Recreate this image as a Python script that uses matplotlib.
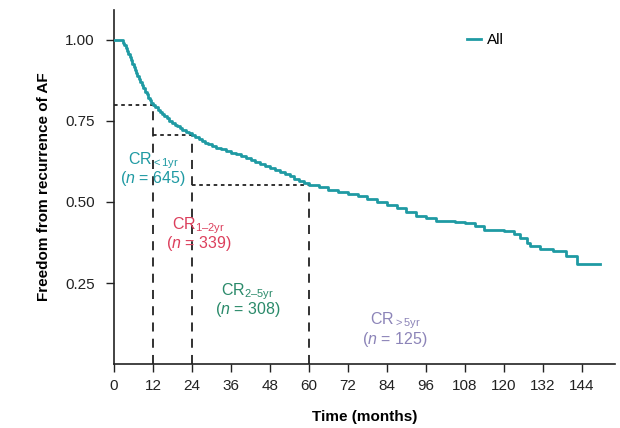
import matplotlib
matplotlib.use("Agg")
import matplotlib.pyplot as plt

plt.rcParams['font.family'] = ['Liberation Sans', 'DejaVu Sans']
plt.rcParams['mathtext.fontset'] = 'custom'
plt.rcParams['mathtext.rm'] = 'Liberation Sans'
plt.rcParams['mathtext.it'] = 'Liberation Sans:italic'
plt.rcParams['mathtext.default'] = 'rm'

# Kaplan-Meier curve
times = [0, 2.8, 3.2, 3.6, 4.0, 4.4, 4.8, 5.2, 5.6, 6.0, 6.4, 6.8, 7.2, 7.6, 8.0,
         8.5, 9.0, 9.5, 10.0, 10.5, 11.0, 11.5, 12.0, 12.7, 13.4, 14.1, 14.8, 15.5,
         16.2, 17.0, 17.8, 18.6, 19.4, 20.2, 21.0, 22.0, 23.0, 24, 25, 26, 27, 28,
         29, 30, 31.5, 33, 34.5, 36, 37.5, 39, 40.5, 42, 43.5, 45,
         46.5, 48, 49.5, 51, 52.5, 54, 55.5, 57, 58.5, 60, 63, 66, 69, 72, 75, 78,
         81, 84, 87, 90, 93, 96, 99, 102, 105, 108, 111, 114, 117, 120, 123, 125,
         127, 128, 131, 135, 139, 142.5, 149.5]
surv = [1.0, 0.992, 0.983, 0.974, 0.965, 0.956, 0.947, 0.937, 0.927, 0.917, 0.907,
        0.898, 0.889, 0.88, 0.871, 0.861, 0.851, 0.841, 0.832, 0.822, 0.814, 0.806,
        0.80, 0.792, 0.784, 0.777, 0.771, 0.765, 0.758, 0.751, 0.745, 0.739, 0.733,
        0.727, 0.722, 0.717, 0.712, 0.707, 0.700, 0.694, 0.688, 0.683, 0.678,
        0.673, 0.668, 0.663, 0.658, 0.652, 0.647, 0.641, 0.636, 0.63, 0.624,
        0.618, 0.612, 0.606, 0.600, 0.594, 0.587, 0.58, 0.572, 0.564, 0.558, 0.552,
        0.545, 0.538, 0.53, 0.524, 0.517, 0.509, 0.5, 0.492, 0.482, 0.47, 0.458,
        0.45, 0.442, 0.44, 0.438, 0.436, 0.425, 0.415, 0.413, 0.41, 0.40, 0.39,
        0.375, 0.364, 0.355, 0.349, 0.333, 0.309, 0.309]

# Reference landmarks
mark_times = [12, 24, 60]
mark_surv = [0.80, 0.707, 0.552]

groups = ["CR$_{{<}1yr}$", "CR$_{1\u20132yr}$", "CR$_{2\u20135yr}$", "CR$_{{>}5yr}$"]
group_n = [645, 339, 308, 125]
group_x = [12, 26, 41, 86.5]
group_y = [0.60, 0.40, 0.195, 0.105]
group_colors = ["#1f9aa3", "#dc3f5c", "#2a8a6a", "#8c84b8"]

xticks = list(range(0, 145, 12))
yticks = [0.25, 0.50, 0.75, 1.00]

teal = "#1f9aa3"

fig = plt.figure(figsize=(6.2, 4.28), dpi=100)
ax = fig.add_axes([0.184, 0.1495, 0.808, 0.8275])

ax.step(times, surv, where='post', color=teal, lw=2.0, label='All', zorder=3)

# landmark lines
prev = 0
for t, s in zip(mark_times, mark_surv):
    ax.plot([prev, t], [s, s], color='#222222', lw=1.3, ls=(0, (2, 2)), zorder=2)
    ax.plot([t, t], [0, s], color='#222222', lw=1.3, ls=(0, (5, 4)), zorder=2)
    prev = t

for g, n, x, y, c in zip(groups, group_n, group_x, group_y, group_colors):
    ax.text(x, y + 0.028, g, color=c, ha='center', va='center', fontsize=11.5)
    ax.text(x, y - 0.028, "($\\it{n}$ = %d)" % n, color=c, ha='center', va='center',
            fontsize=11.5)

ax.set_xlim(0, 154.2)
ax.set_ylim(0, 1.093)
ax.set_xticks(xticks)
ax.set_yticks(yticks)
ax.set_yticklabels(["%.2f" % v for v in yticks])
ax.tick_params(labelsize=11, length=6, width=1.0, colors='#222222', pad=8)
ax.tick_params(axis='x', pad=5)
for sp in ['top', 'right']:
    ax.spines[sp].set_visible(False)
for sp in ['left', 'bottom']:
    ax.spines[sp].set_linewidth(1.2)
    ax.spines[sp].set_color('#222222')

ax.set_xlabel("Time (months)", fontsize=11, fontweight='bold', labelpad=12)
ax.set_ylabel("Freedom from recurrence of AF", fontsize=11, fontweight='bold', labelpad=10)

leg = ax.legend(loc='center left', bbox_to_anchor=(0.678, 0.915), frameon=False,
                fontsize=11, handlelength=0.9, handletextpad=0.4)

fig.savefig("out.png", dpi=100)
